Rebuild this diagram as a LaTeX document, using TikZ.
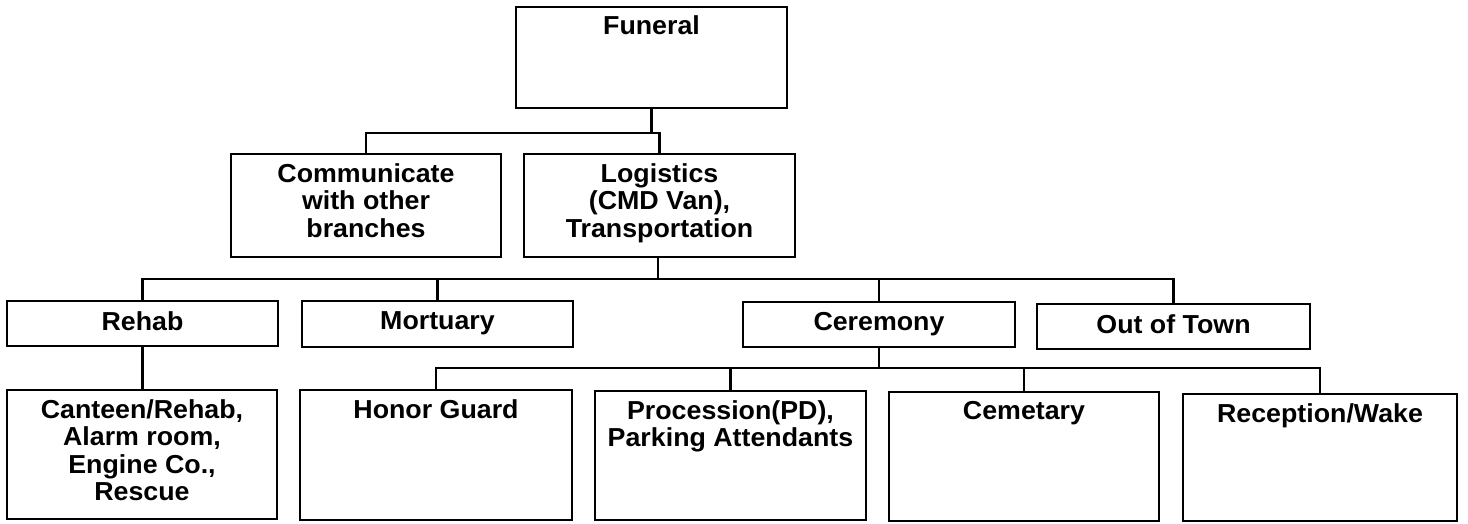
\documentclass[tikz,border=0pt]{standalone}
\usepackage{fontspec}
\setmainfont{Liberation Sans}[FakeStretch=1.03]
\usetikzlibrary{positioning}

\tikzset{
  box/.style n args={2}{draw, line width=2.6pt, inner sep=0pt, outer sep=0pt,
    minimum width=#1pt, minimum height=#2pt},
  label/.style={align=center, inner sep=0pt,
    font=\bfseries\fontsize{26}{27.5}\selectfont},
  link/.style={line width=2.2pt}
}

\begin{document}
\begin{tikzpicture}[x=1pt, y=-1pt]
  \useasboundingbox (0,0) rectangle (1468,523);

  % boxes, level by level
  \node[box={271}{101}] (funeral) at (651.5,57.5) {};
  \node[box={270}{103}] (comm)    at (366,205.5) {};
  \node[box={271}{103}] (logi)    at (659.5,205.5) {};

  \node[box={271}{45}] (rehab) at (142.5,323.5) {};
  \node[box={271}{46}] (mort)  at (437.5,324) {};
  \node[box={272}{45}] (cere)  at (879,324.5) {};
  \node[box={273}{45}] (town)  at (1173.5,326.5) {};

  \node[box={270}{129}] (canteen) at (142,454.5) {};
  \node[box={272}{130}] (honor)   at (436,455) {};
  \node[box={271}{129}] (proc)    at (730.5,455.5) {};
  \node[box={270}{129}] (cemet)   at (1024,456.5) {};
  \node[box={274}{127}] (recep)   at (1320,457.5) {};

  % box texts, set at the top of each box
  \node[label, below=8.5pt of funeral.north] (tFuneral) {Funeral};
  \node[label, below=9pt of comm.north] (tComm) {Communicate\\with other\\branches};
  \node[label, below=9pt of logi.north] (tLogi) {Logistics\\(CMD Van),\\Transportation};
  \node[label, below=10pt of rehab.north] (tRehab) {Rehab};
  \node[label, below=10pt of mort.north] (tMort) {Mortuary};
  \node[label, below=10pt of cere.north] (tCere) {Ceremony};
  \node[label, below=10pt of town.north] (tTown) {Out of Town};
  \node[label, below=9pt of canteen.north] (tCanteen) {Canteen/Rehab,\\Alarm room,\\Engine Co.,\\Rescue};
  \node[label, below=9pt of honor.north] (tHonor) {Honor Guard};
  \node[label, below=9pt of proc.north] (tProc) {Procession(PD),\\Parking Attendants};
  \node[label, below=9pt of cemet.north] (tCemet) {Cemetary};
  \node[label, below=9pt of recep.north] (tRecep) {Reception/Wake};

  % junctions of the connector buses
  \coordinate (j1) at (651.5,133);
  \coordinate (j2) at (658,279);
  \coordinate (j3) at (879,368);

  % Funeral -> second level
  \draw[link] (funeral.south) -- (j1);
  \draw[link] (comm.north) |- (j1) -| (logi.north);

  % Logistics -> third level
  \draw[link] (logi.south -| j2) -- (j2);
  \draw[link] (rehab.north) |- (j2) -| (town.north);
  \draw[link] (mort.north) -- (mort.north |- j2);
  \draw[link] (cere.north) -- (cere.north |- j2);

  % Rehab -> Canteen
  \draw[link] (rehab.south) -- (rehab.south |- canteen.north);

  % Ceremony -> fourth level
  \draw[link] (cere.south) -- (j3);
  \draw[link] (honor.north) |- (j3) -| (recep.north);
  \draw[link] (proc.north) -- (proc.north |- j3);
  \draw[link] (cemet.north) -- (cemet.north |- j3);
\end{tikzpicture}
\end{document}
